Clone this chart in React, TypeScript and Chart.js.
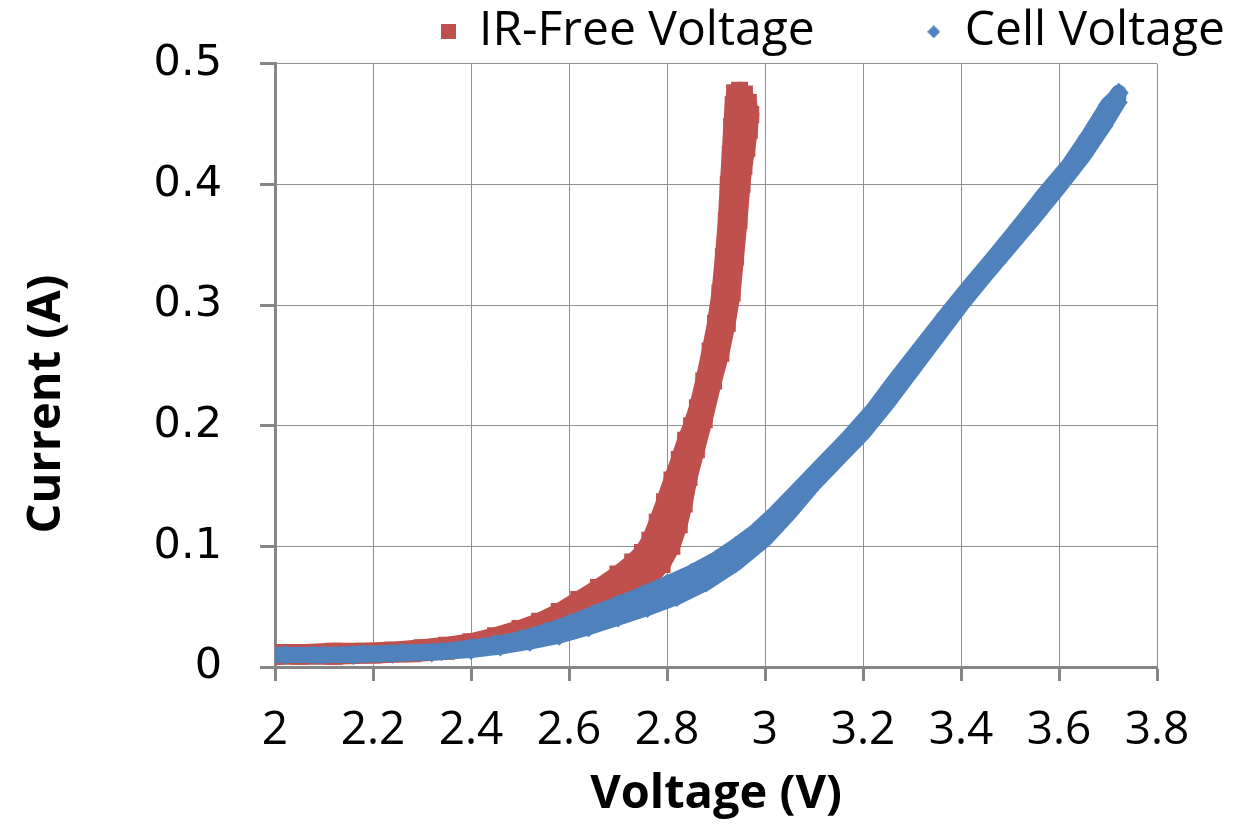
import React, { useEffect, useRef } from "react";
import { Chart, registerables } from "chart.js";

Chart.register(...registerables);

// ---------- text ----------
const SERIES_NAMES = ["IR-Free Voltage", "Cell Voltage"];
const X_TITLE = "Voltage (V)";
const Y_TITLE = "Current (A)";

// ---------- axis ticks ----------
const X_TICKS = [2, 2.2, 2.4, 2.6, 2.8, 3, 3.2, 3.4, 3.6, 3.8];
const Y_TICKS = [0, 0.1, 0.2, 0.3, 0.4, 0.5];

// ---------- IR-Free Voltage (V, A): rising branch then returning branch ----------
const irVoltage = [
  2.0, 2.06, 2.12, 2.18, 2.24, 2.3, 2.35, 2.4, 2.45, 2.5, 2.54, 2.58, 2.62, 2.66, 2.7, 2.73, 2.75, 2.765,
  2.78, 2.795, 2.81, 2.825, 2.838, 2.85, 2.862, 2.875, 2.888, 2.899, 2.908, 2.915, 2.921, 2.925, 2.929, 2.932,
  2.935, 2.938,
  2.948, 2.958, 2.966, 2.971, 2.968, 2.963, 2.957, 2.953, 2.947, 2.94, 2.933, 2.923, 2.91, 2.895, 2.876,
  2.86, 2.845, 2.835, 2.825, 2.81, 2.79, 2.765, 2.735, 2.7, 2.66, 2.62, 2.58, 2.53, 2.48, 2.42, 2.35, 2.28,
  2.2, 2.12, 2.05, 2.0,
];
const irCurrent = [
  0.012, 0.012, 0.013, 0.013, 0.014, 0.016, 0.018, 0.021, 0.026, 0.032, 0.038, 0.046, 0.056, 0.066, 0.077,
  0.087, 0.095, 0.105, 0.12, 0.137, 0.155, 0.172, 0.188, 0.2, 0.215, 0.237, 0.262, 0.285, 0.31, 0.34, 0.37,
  0.4, 0.425, 0.448, 0.466, 0.476,
  0.478, 0.475, 0.468, 0.458, 0.445, 0.43, 0.415, 0.4, 0.37, 0.34, 0.31, 0.285, 0.26, 0.237, 0.205, 0.18,
  0.157, 0.135, 0.118, 0.1, 0.085, 0.074, 0.066, 0.058, 0.05, 0.042, 0.035, 0.028, 0.022, 0.017, 0.013,
  0.011, 0.01, 0.009, 0.009, 0.009,
];

// ---------- Cell Voltage (V, A): rising branch then returning branch ----------
const cellVoltage = [
  2.0, 2.08, 2.16, 2.24, 2.32, 2.4, 2.46, 2.52, 2.58, 2.64, 2.7, 2.76, 2.82, 2.88, 2.94, 3.0, 3.05, 3.1,
  3.15, 3.2, 3.25, 3.3, 3.35, 3.4, 3.45, 3.5, 3.55, 3.6, 3.65, 3.69, 3.72, 3.722,
  3.715, 3.7, 3.66, 3.62, 3.57, 3.52, 3.47, 3.42, 3.37, 3.32, 3.27, 3.22, 3.17, 3.12, 3.07, 3.02, 2.98,
  2.94, 2.9, 2.85, 2.8, 2.75, 2.7, 2.65, 2.6, 2.55, 2.5, 2.45, 2.4, 2.34, 2.26, 2.18, 2.1, 2.02,
];
const cellCurrent = [
  0.01, 0.01, 0.01, 0.011, 0.012, 0.014, 0.017, 0.021, 0.026, 0.033, 0.041, 0.049, 0.058, 0.07, 0.086,
  0.106, 0.128, 0.152, 0.173, 0.194, 0.219, 0.246, 0.273, 0.3, 0.325, 0.349, 0.373, 0.398, 0.424, 0.448,
  0.468, 0.476,
  0.472, 0.466, 0.44, 0.416, 0.392, 0.366, 0.341, 0.317, 0.292, 0.266, 0.24, 0.213, 0.19, 0.169, 0.148,
  0.127, 0.112, 0.1, 0.089, 0.078, 0.069, 0.06, 0.052, 0.044, 0.036, 0.029, 0.023, 0.019, 0.016, 0.013,
  0.012, 0.011, 0.01, 0.01,
];

const RED = "#C0504D";
const BLUE = "#4F81BD";
const AXIS_GRAY = "#868686";
const GRID_GRAY = "#8f8f8f";
const SANS = "'Open Sans', sans-serif";

const fmt = (v: number) => String(Math.round(v * 10) / 10);

export default function App() {
  const canvasRef = useRef<HTMLCanvasElement>(null);

  useEffect(() => {
    const canvas = canvasRef.current;
    if (!canvas) return;

    const makeMarker = (shape: "square" | "diamond", color: string, size: number) => {
      const c = document.createElement("canvas");
      c.width = size;
      c.height = size;
      const g = c.getContext("2d")!;
      g.fillStyle = color;
      if (shape === "square") {
        g.fillRect(0, 0, size, size);
      } else {
        g.beginPath();
        g.moveTo(size / 2, 0);
        g.lineTo(size, size / 2);
        g.lineTo(size / 2, size);
        g.lineTo(0, size / 2);
        g.closePath();
        g.fill();
      }
      return c;
    };
    const legendMarkers = [makeMarker("square", RED, 15), makeMarker("diamond", BLUE, 13)];

    const yTitlePlugin = {
      id: "yAxisTitle",
      afterDraw(chart: any) {
        const ctx = chart.ctx;
        ctx.save();
        ctx.translate(47, 404);
        ctx.rotate(-Math.PI / 2);
        ctx.font = `bold 47px ${SANS}`;
        ctx.fillStyle = "#000";
        ctx.textAlign = "center";
        ctx.textBaseline = "middle";
        ctx.fillText(Y_TITLE, 0, 0);
        ctx.restore();
      },
    };

    const irPoints = irVoltage.map((v, i) => ({ x: v, y: irCurrent[i] }));
    const cellPoints = cellVoltage.map((v, i) => ({ x: v, y: cellCurrent[i] }));

    const chart = new Chart(canvas, {
      type: "scatter",
      data: {
        datasets: [
          {
            label: SERIES_NAMES[0],
            data: irPoints,
            order: 1,
            showLine: true,
            fill: "shape",
            borderColor: RED,
            backgroundColor: RED,
            borderWidth: 17,
            borderJoinStyle: "round",
            borderCapStyle: "round",
            pointStyle: "rect",
            pointRadius: 12,
            pointHoverRadius: 12,
            pointBackgroundColor: RED,
            pointBorderColor: RED,
            pointBorderWidth: 0,
          },
          {
            label: SERIES_NAMES[1],
            data: cellPoints,
            order: 0,
            showLine: true,
            fill: "shape",
            borderColor: BLUE,
            backgroundColor: BLUE,
            borderWidth: 16,
            borderJoinStyle: "round",
            borderCapStyle: "round",
            pointStyle: "rectRot",
            pointRadius: 10,
            pointHoverRadius: 10,
            pointBackgroundColor: BLUE,
            pointBorderColor: BLUE,
            pointBorderWidth: 0,
          },
        ],
      },
      options: {
        animation: false,
        responsive: true,
        maintainAspectRatio: false,
        events: [],
        layout: { padding: { top: -106, right: -100, left: 0, bottom: 0 } },
        plugins: {
          tooltip: { enabled: false },
          filler: { propagate: false },
          legend: {
            position: "top",
            align: "end",
            maxHeight: 168,
            labels: {
              color: "#000",
              font: { family: SANS, size: 48 },
              usePointStyle: true,
              boxWidth: 14,
              boxHeight: 14,
              padding: 112,
              sort: (a: any, b: any) => a.datasetIndex - b.datasetIndex,
              generateLabels: (ch: any) => {
                const items = (Chart.defaults.plugins.legend.labels as any).generateLabels(ch);
                items.forEach((it: any) => {
                  it.pointStyle = legendMarkers[it.datasetIndex];
                });
                return items;
              },
            },
          },
        },
        scales: {
          x: {
            type: "linear",
            position: "bottom",
            min: X_TICKS[0],
            max: X_TICKS[X_TICKS.length - 1],
            afterBuildTicks: (scale: any) => {
              scale.ticks = X_TICKS.map((v) => ({ value: v }));
            },
            afterFit: (scale: any) => {
              scale.height = 158;
              scale.paddingRight = 80;
            },
            grid: {
              color: GRID_GRAY,
              lineWidth: 1,
              tickColor: AXIS_GRAY,
              tickWidth: 3,
              tickLength: 14,
            },
            border: { display: true, color: AXIS_GRAY, width: 3 },
            ticks: {
              color: "#000",
              font: { family: SANS, size: 46 },
              padding: 22,
              maxRotation: 0,
              autoSkip: false,
              callback: (v: any) => fmt(Number(v)),
            },
            title: {
              display: true,
              text: X_TITLE,
              color: "#000",
              font: { family: SANS, size: 47, weight: "bold" },
              padding: { top: 0, bottom: 2 },
            },
          },
          y: {
            type: "linear",
            min: Y_TICKS[0],
            max: Y_TICKS[Y_TICKS.length - 1],
            afterBuildTicks: (scale: any) => {
              scale.ticks = Y_TICKS.map((v) => ({ value: v }));
            },
            afterFit: (scale: any) => {
              scale.width = 275;
            },
            grid: {
              color: GRID_GRAY,
              lineWidth: 1,
              tickColor: AXIS_GRAY,
              tickWidth: 3,
              tickLength: 15,
            },
            border: { display: true, color: AXIS_GRAY, width: 3 },
            ticks: {
              color: "#000",
              font: { family: "'DejaVu Sans', sans-serif", size: 43 },
              padding: 38,
              autoSkip: false,
              callback: (v: any) => fmt(Number(v)),
            },
          },
        },
      },
      plugins: [yTitlePlugin],
    } as any);

    return () => chart.destroy();
  }, []);

  return (
    <div
      style={{
        position: "absolute",
        left: 0,
        top: 0,
        width: 1237,
        height: 825,
        background: "#fff",
      }}
    >
      <canvas ref={canvasRef} />
    </div>
  );
}
